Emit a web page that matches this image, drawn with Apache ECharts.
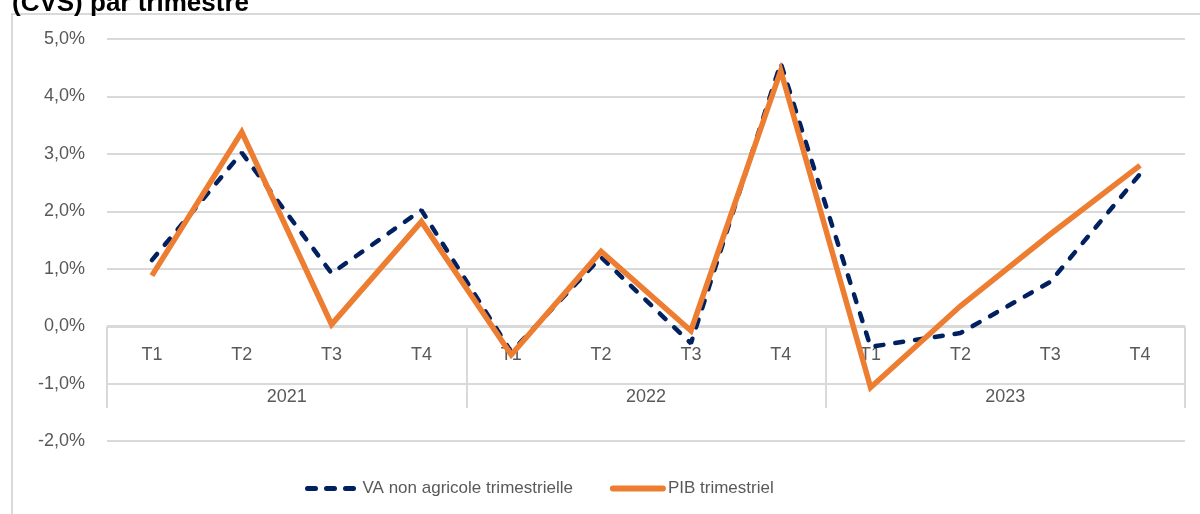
<html>
<head>
    <meta http-equiv="Content-Type" content="text/html; charset=utf-8" />
    <title>VA non agricole et PIB trimestriels</title>
    <style>
        html, body { margin: 0; padding: 0; background: #fff; overflow: hidden; }
        #frame { position: absolute; left: 11px; top: 13px; width: 1200px; height: 520px; border: 2px solid #d9d9d9; box-sizing: border-box; }
        #container { position: absolute; left: 0; top: 0; width: 1200px; height: 514px; }
    </style>
</head>

<body>
    <div id="frame"></div>
    <div id="container"></div>
    <script src="https://cdn.jsdelivr.net/npm/echarts@6/dist/echarts.min.js"></script>
    <script type="text/javascript">
    // donnees (variation trimestrielle, %)
    var annees = ['2021', '2022', '2023'];
    var trimestres = ['T1', 'T2', 'T3', 'T4'];
    var vaNonAgricole = [1.15, 3.02, 0.92, 2.02, -0.45, 1.2, -0.3, 4.58, -0.36, -0.12, 0.77, 2.65];
    var pibTrimestriel = [0.88, 3.38, 0.03, 1.82, -0.5, 1.3, -0.08, 4.45, -1.07, 0.35, 1.6, 2.8];

    var gris = '#595959';
    var grille = '#d9d9d9';
    var police = '"Liberation Sans", Arial, sans-serif';
    var bleu = '#002060';
    var orange = '#ED7D31';

    // une categorie par trimestre, nom unique "2021 T1"
    var categories = [];
    for (var a = 0; a < annees.length; a++) {
        for (var t = 0; t < trimestres.length; t++) {
            categories.push(annees[a] + ' ' + trimestres[t]);
        }
    }

    var myChart = echarts.init(document.getElementById('container'));

    myChart.setOption({
        animation: false,
        graphic: [{
            type: 'text',
            left: 12,
            top: -9,
            style: {
                text: '(CVS) par trimestre',
                font: 'bold 26px ' + police,
                fill: '#000'
            }
        }],
        grid: {
            left: 107,
            right: 15,
            top: 39,
            bottom: 73
        },
        legend: {
            left: 300,
            top: 475,
            itemWidth: 50,
            itemHeight: 18,
            itemGap: 37,
            itemStyle: { opacity: 0 },
            textStyle: {
                color: gris,
                fontSize: 17,
                fontFamily: police
            },
            data: [{
                name: 'VA non agricole trimestrielle',
                lineStyle: { color: bleu, width: 5, type: [8, 11], cap: 'round' }
            }, {
                name: 'PIB trimestriel',
                lineStyle: { color: orange, width: 6, cap: 'round' }
            }]
        },
        xAxis: [{
            // trimestres, ligne d'axe sur le zero
            type: 'category',
            data: categories,
            position: 'bottom',
            offset: -114,
            boundaryGap: true,
            axisLine: { onZero: false, lineStyle: { color: grille, width: 2 } },
            axisTick: { show: false },
            axisLabel: {
                interval: 0,
                margin: 19,
                color: gris,
                fontSize: 18,
                fontFamily: police,
                formatter: function(v) { return v.split(' ')[1]; }
            }
        }, {
            // annees + separateurs
            type: 'category',
            data: annees,
            position: 'bottom',
            offset: -57,
            boundaryGap: true,
            axisLine: { onZero: false, show: true, lineStyle: { color: grille, width: 2 } },
            axisTick: { show: true, inside: true, length: 57, interval: 0, lineStyle: { color: grille, width: 2 } },
            axisLabel: {
                interval: 0,
                margin: 4,
                color: gris,
                fontSize: 18,
                fontFamily: police
            }
        }, {
            type: 'category',
            data: annees,
            position: 'bottom',
            offset: -57,
            boundaryGap: true,
            axisLine: { onZero: false, show: false },
            axisTick: { show: true, inside: false, length: 24, interval: 0, lineStyle: { color: grille, width: 2 } },
            axisLabel: { show: false }
        }],
        yAxis: {
            type: 'value',
            min: -2,
            max: 5,
            interval: 1,
            axisLine: { show: false },
            axisTick: { show: false },
            splitLine: { lineStyle: { color: grille, width: 2 } },
            axisLabel: {
                margin: 22,
                color: gris,
                fontSize: 18,
                fontFamily: police,
                formatter: function(v) { return v.toFixed(1).replace('.', ',') + '%'; }
            }
        },
        series: [{
            name: 'VA non agricole trimestrielle',
            type: 'line',
            xAxisIndex: 0,
            symbol: 'none',
            data: vaNonAgricole,
            itemStyle: { color: bleu },
            lineStyle: { color: bleu, width: 4.5, type: [8, 12], cap: 'round' }
        }, {
            name: 'PIB trimestriel',
            type: 'line',
            xAxisIndex: 0,
            symbol: 'none',
            data: pibTrimestriel,
            itemStyle: { color: orange },
            lineStyle: { color: orange, width: 5.5, join: 'miter' }
        }]
    });
    </script>
</body>

</html>
